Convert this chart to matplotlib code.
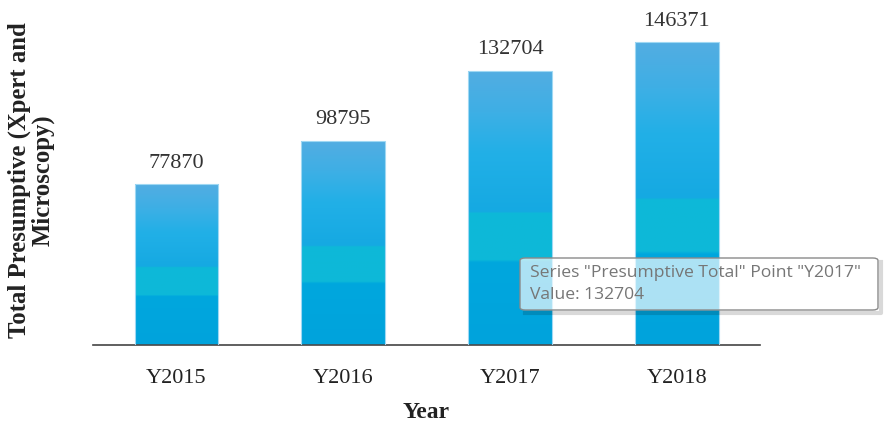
import numpy as np
import matplotlib
matplotlib.use("Agg")
import matplotlib.pyplot as plt
from matplotlib.colors import LinearSegmentedColormap
from matplotlib.patches import FancyBboxPatch
from matplotlib.lines import Line2D

years = ["Y2015", "Y2016", "Y2017", "Y2018"]
totals = [77870, 98795, 132704, 146371]

# gradient top -> bottom, with the teal band of the original
grad = LinearSegmentedColormap.from_list("bars", [
    (0.00, "#53ade2"), (0.15, "#3eafe5"), (0.30, "#22b0e7"),
    (0.515, "#15a9e2"), (0.52, "#0eb8d8"), (0.69, "#0db9d8"),
    (0.70, "#00a7de"), (1.00, "#00a3dc")])

fig = plt.figure(figsize=(8.84, 4.24), dpi=100)
ax = fig.add_axes([0.105, 0.186, 0.755, 0.79])

bars = ax.bar(range(len(years)), totals, width=0.5, facecolor="none",
              edgecolor="#9fd8f3", linewidth=0.8, zorder=3)
col = np.linspace(0, 1, 256).reshape(-1, 1)
for b in bars:
    x0, y0 = b.get_x(), b.get_y()
    im = ax.imshow(col, cmap=grad, aspect="auto", origin="upper",
                   extent=[x0, x0 + b.get_width(), y0, y0 + b.get_height()],
                   zorder=2)
    im.set_clip_path(b)

for i, v in enumerate(totals):
    ax.text(i, v + 5500, str(v), ha="center", va="bottom",
            family="Liberation Serif", fontsize=16, color="#333333")

ax.set_xlim(-0.5, 3.5)
ax.set_ylim(0, 162000)
ax.set_xticks(range(len(years)))
ax.set_xticklabels(years, family="Liberation Serif", fontsize=16, color="#222222")
ax.tick_params(axis="x", length=0, pad=17)
ax.set_yticks([])
for s in ["top", "right", "left"]:
    ax.spines[s].set_visible(False)
ax.spines["bottom"].set_color("#444444")
ax.spines["bottom"].set_linewidth(1.2)

ax.set_xlabel("Year", family="Liberation Serif", fontweight="bold",
              fontsize=17, labelpad=10, color="#222222")
fig.text(31 / 884, 1 - 180 / 424, "Total Presumptive (Xpert and\nMicroscopy)",
         family="Liberation Serif", fontweight="bold", fontsize=17.8,
         color="#222222", rotation=90, ha="center", va="center",
         multialignment="center", linespacing=1.0)

# tooltip as in the screenshot
tx, ty, tw, th = 520 / 884, 1 - 310 / 424, 358 / 884, 52 / 424
box = FancyBboxPatch((tx, ty), tw, th, transform=fig.transFigure,
                     boxstyle="round,pad=0,rounding_size=0.006",
                     facecolor=(1, 1, 1, 0.68), edgecolor="#8a8a8a",
                     linewidth=1.0, zorder=10)
fig.patches.append(box)
sx0, sx1 = tx + 0.006, tx + tw + 0.003
sy0, sy1 = ty - 0.006, ty + th - 0.01
fig.lines.append(Line2D([sx0, sx1, sx1], [sy0, sy0, sy1], transform=fig.transFigure,
                        color=(0, 0, 0, 0.15), linewidth=3, zorder=9,
                        solid_joinstyle="round"))
fig.text(530 / 884, 1 - 284 / 424,
         'Series "Presumptive Total" Point "Y2017"\nValue: 132704',
         family="Open Sans", fontsize=12.6, color="#767676", va="center",
         ha="left", linespacing=1.45, zorder=11)

fig.savefig("out.png", dpi=100)
